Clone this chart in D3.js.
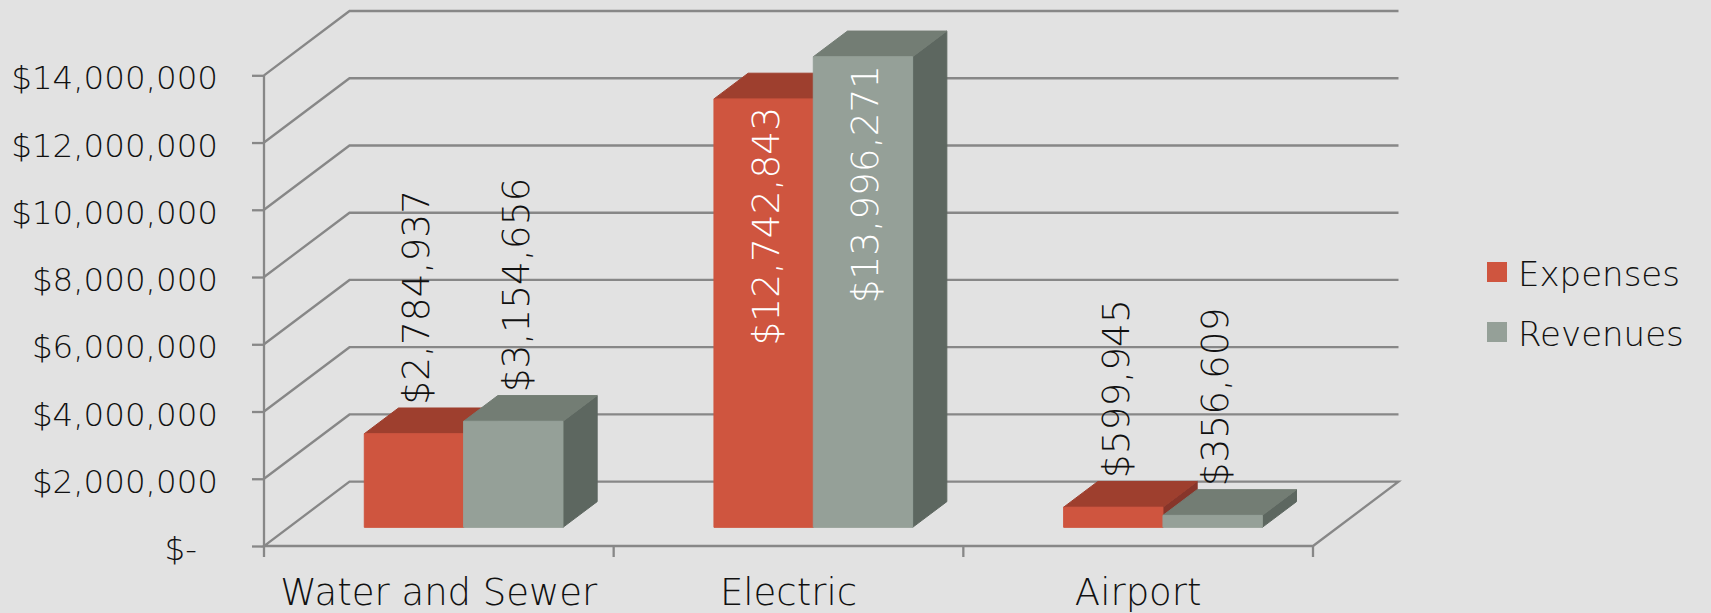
<!DOCTYPE html>
<html>
<head>
<meta charset="utf-8">
<script src="https://cdn.jsdelivr.net/npm/d3@7"></script>
<style>
  html, body { margin: 0; padding: 0; background: #e2e2e2; }
  svg { display: block; }
  text { font-family: "DejaVu Sans", sans-serif; font-weight: 200; fill: #111111; }
</style>
</head>
<body>
<svg id="chart" width="1711" height="613"></svg>
<script>
// Fund totals by enterprise
const categories = ["Water and Sewer", "Electric", "Airport"];
const seriesNames = ["Expenses", "Revenues"];
const expenses = [2784937, 12742843, 599945];
const revenues = [3154656, 13996271, 356609];
const yTickValues = [0, 2000000, 4000000, 6000000, 8000000, 10000000, 12000000, 14000000];

// Face colours per series: front, top, side
const palette = {
  Expenses: { front: "#cf553f", top: "#9e3f2e", side: "#87352a" },
  Revenues: { front: "#95a098", top: "#737d74", side: "#5d6760" }
};

const svg = d3.select("#chart");
const W = 1711, H = 613;
svg.append("rect").attr("width", W).attr("height", H).attr("fill", "#e2e2e2");

// Plot frame (front plane) and depth projection
const plot = { left: 264, right: 1313, bottom: 546, top: 75.3 };
const depth = { dx: 85.5, dy: 64.3 };
const barDepth = { z0: 0.29, z1: 0.69 };
const gridColor = "#878787";
const fontStack = "'DejaVu Sans', sans-serif";

const x = d3.scaleBand().domain(categories).range([plot.left, plot.right]);
const xs = d3.scaleBand().domain(seriesNames).range([0, x.bandwidth()])
  .paddingInner(0).paddingOuter(0.76);
const y = d3.scaleLinear().domain([0, 14000000]).range([plot.bottom, plot.top]);

const proj = (px, py, z) => [px + z * depth.dx, py - z * depth.dy];
const line = d3.line();

// Back wall gridlines running along the left wall
const gGrid = svg.append("g").attr("fill", "none").attr("stroke", gridColor).attr("stroke-width", 2.3);
yTickValues.filter(v => v > 0).forEach(v => {
  const a = proj(plot.left, y(v), 0), b = proj(plot.left, y(v), 1), c = proj(plot.right, y(v), 1);
  gGrid.append("path").attr("d", line([a, b, c]));
});
// Floor outline
{
  const p = [proj(plot.left, y(0), 0), proj(plot.right, y(0), 0), proj(plot.right, y(0), 1), proj(plot.left, y(0), 1)];
  gGrid.append("path").attr("d", line(p) + "Z");
}

// Y axis
const yAxis = d3.axisLeft(y).tickValues(yTickValues).tickSize(12).tickPadding(34)
  .tickFormat(v => v === 0 ? "$-" : "$" + d3.format(",")(v));
const gy = svg.append("g").attr("transform", `translate(${plot.left},0)`).call(yAxis);
gy.select(".domain").attr("stroke", gridColor).attr("stroke-width", 2.3).attr("d", `M0,${y(14000000)}V${y(0)}`);
gy.selectAll(".tick line").attr("stroke", gridColor).attr("stroke-width", 2.3);
gy.selectAll(".tick text").attr("font-size", 32.5).attr("fill", "#111111").attr("dy", "0.42em")
  .style("font-family", fontStack).style("font-weight", 200);
gy.selectAll(".tick text").filter(v => v === 0).attr("dx", "-0.65em");

// X axis: boundary ticks and centred category labels
const gx = svg.append("g");
const bounds = categories.map(c => x(c)).concat([x(categories[categories.length - 1]) + x.bandwidth()]);
gx.selectAll("line").data(bounds).join("line")
  .attr("x1", d => d).attr("x2", d => d).attr("y1", y(0)).attr("y2", y(0) + 11)
  .attr("stroke", gridColor).attr("stroke-width", 2.3);
gx.selectAll("text").data(categories).join("text")
  .attr("x", d => x(d) + x.bandwidth() / 2).attr("y", y(0) + 59)
  .attr("text-anchor", "middle").attr("font-size", 37).text(d => d);

// Bars
const bars = [];
categories.forEach((c, i) => {
  bars.push({ cat: c, series: "Expenses", value: expenses[i] });
  bars.push({ cat: c, series: "Revenues", value: revenues[i] });
});

const gBars = svg.append("g");
const gLabels = svg.append("g");
bars.forEach(b => {
  const xl = x(b.cat) + xs(b.series), xr = xl + xs.bandwidth();
  const yb = y(0), yt = y(b.value);
  const { z0, z1 } = barDepth;
  const col = palette[b.series];
  const g = gBars.append("g").attr("stroke-width", 1).attr("stroke-linejoin", "round");
  const front = [proj(xl, yb, z0), proj(xr, yb, z0), proj(xr, yt, z0), proj(xl, yt, z0)];
  const top = [proj(xl, yt, z0), proj(xr, yt, z0), proj(xr, yt, z1), proj(xl, yt, z1)];
  const side = [proj(xr, yb, z0), proj(xr, yb, z1), proj(xr, yt, z1), proj(xr, yt, z0)];
  g.append("path").attr("d", line(side) + "Z").attr("fill", col.side).attr("stroke", col.side);
  g.append("path").attr("d", line(top) + "Z").attr("fill", col.top).attr("stroke", col.top);
  g.append("path").attr("d", line(front) + "Z").attr("fill", col.front).attr("stroke", col.front);

  // Value label, rotated; placed inside the bar when it fits
  const cx = (front[0][0] + front[1][0]) / 2 + 2;
  const frontTop = front[2][1];
  const t = gLabels.append("text").attr("font-size", 37.5)
    .text("$" + d3.format(",")(b.value));
  const len = t.node().getComputedTextLength();
  const barH = front[0][1] - frontTop;
  if (barH > len + 40) {
    t.attr("text-anchor", "end").style("fill", "#ffffff")
      .attr("transform", `translate(${cx},${frontTop + 8}) rotate(-90)`).attr("dy", "0.36em");
  } else {
    t.attr("text-anchor", "start")
      .attr("transform", `translate(${cx},${frontTop - 29}) rotate(-90)`).attr("dy", "0.36em");
  }
});

// Legend
const legend = svg.append("g").attr("transform", "translate(1487,262)");
seriesNames.forEach((s, i) => {
  const row = legend.append("g").attr("transform", `translate(0,${i * 60})`);
  row.append("rect").attr("width", 20).attr("height", 20).attr("fill", palette[s].front);
  row.append("text").attr("x", 31).attr("y", 23.5).attr("font-size", 34).text(s);
});
</script>
</body>
</html>
